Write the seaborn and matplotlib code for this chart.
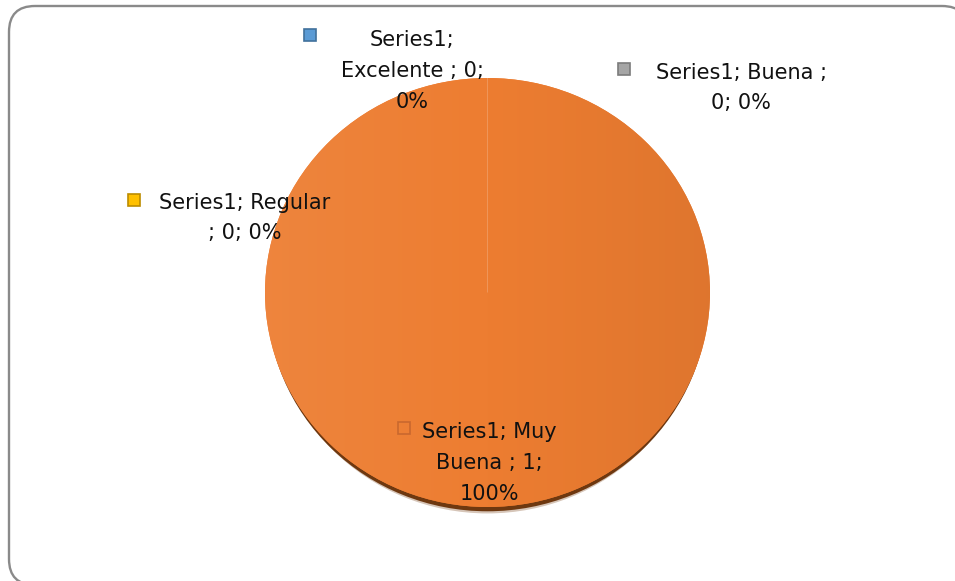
import textwrap
import numpy as np
import matplotlib
matplotlib.use("Agg")
import matplotlib.pyplot as plt
from matplotlib.patches import FancyBboxPatch, Rectangle, Ellipse
from matplotlib.colors import LinearSegmentedColormap, to_rgb
import seaborn as sns

# Data: one series, four rating categories
series_name = "Series1"
categories = ["Excelente ", "Muy Buena ", "Buena ", "Regular "]
values = [0, 1, 0, 0]

sns.set_theme(style="white")
plt.rcParams["font.family"] = ["DejaVu Sans"]

palette = sns.color_palette(["#5B9BD5", "#ED7D31", "#A5A5A5", "#FFC000"])
key_edges = ["#41719C", "#C9682E", "#7C7C7C", "#BC8C00"]
key_fill = ["#5B9BD5", "none", "#A5A5A5", "#FFC000"]

W, H = 955, 581
fig = plt.figure(figsize=(W / 100, H / 100), dpi=100)
fig.patch.set_facecolor("white")

# Rounded chart-area frame (pixel coordinates)
bg = fig.add_axes([0, 0, 1, 1], zorder=0)
bg.set_xlim(0, W)
bg.set_ylim(H, 0)
bg.axis("off")
bg.add_patch(FancyBboxPatch((9, 6), 959, 579,
                            boxstyle="round,pad=0,rounding_size=26",
                            fc="white", ec="#8a8a8a", lw=1.7, clip_on=False))

# Pie plot area
pie_left, pie_right, pie_top, pie_bottom = 265, 710, 78, 507
pax = fig.add_axes([pie_left / W, 1 - pie_bottom / H,
                    (pie_right - pie_left) / W, (pie_bottom - pie_top) / H],
                   zorder=1)
wedges, _ = pax.pie(values, colors=palette, startangle=90, counterclock=False,
                    radius=1, wedgeprops=dict(linewidth=0))
pax.set_aspect("auto")

# soft drop shadow under the pie
pax.add_patch(Ellipse((0, -0.03), 1.96, 2.0, color="#8a5a35", alpha=0.35,
                      zorder=0, clip_on=False, lw=0))
pax.add_patch(Ellipse((0, -0.02), 1.985, 2.0, color="#6e3810",
                      zorder=0.5, clip_on=False, lw=0))


def mix(c, other, t):
    c = np.array(to_rgb(c))
    o = np.array(to_rgb(other))
    return tuple(c + (o - c) * t)


grad = np.linspace(0, 1, 256)[None, :]
for w, v, c in zip(wedges, values, palette):
    w.set_zorder(1)
    if v <= 0:
        # zero-size slices show only as a faint radial boundary
        w.set_facecolor("none")
        w.set_edgecolor((1, 1, 1, 0.07))
        w.set_linewidth(0.8)
        w.set_zorder(3)
        continue
    cmap = LinearSegmentedColormap.from_list(
        "shade", [mix(c, "white", 0.06), c, mix(c, "black", 0.06)])
    im = pax.imshow(grad, extent=(-1, 1, -1, 1), cmap=cmap, aspect="auto",
                    zorder=2, interpolation="bilinear")
    im.set_clip_path(w)

pax.set_xlim(-1, 1)
pax.set_ylim(-1, 1)
pax.set_aspect("auto")
pax.axis("off")

# Data labels with legend keys
ov = fig.add_axes([0, 0, 1, 1], zorder=4)
ov.set_xlim(0, W)
ov.set_ylim(H, 0)
ov.axis("off")
ov.patch.set_alpha(0)

total = sum(values)
label_center = [(412, 71), (489, 463), (741, 88), (245, 218)]
wrap_width = [15, 12, 16, 16]
key_center = [(310, 35), (404, 428), (624, 69), (134, 200)]

for i, cat in enumerate(categories):
    pct = values[i] / total * 100
    full = f"{series_name}; {cat}; {values[i]}; {pct:.0f}%"
    text = "\n".join(textwrap.wrap(full, wrap_width[i]))
    x, y = label_center[i]
    ov.text(x, y, text, ha="center", va="center", ma="center",
            fontsize=15, color="#111111", linespacing=1.68)
    kx, ky = key_center[i]
    ov.add_patch(Rectangle((kx - 6, ky - 6), 12, 12, fc=key_fill[i],
                           ec=key_edges[i], lw=1.2))

fig.savefig("out.png", dpi=100)
